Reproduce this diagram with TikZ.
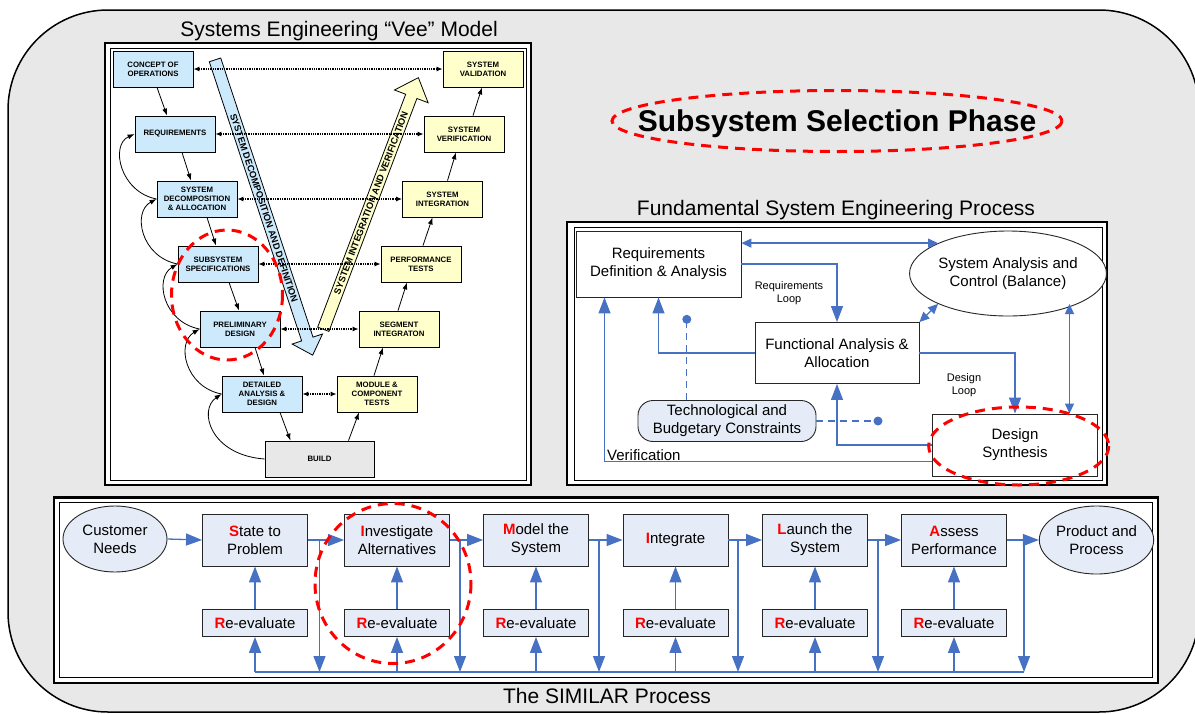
\documentclass[tikz,border=0pt]{standalone}
\usepackage{fontspec}
\setmainfont{Liberation Sans}
\usetikzlibrary{arrows.meta,calc,shapes.geometric}
\definecolor{bggray}{RGB}{232,232,232}
\definecolor{veeblue}{RGB}{204,234,252}
\definecolor{veeyel}{RGB}{255,255,204}
\definecolor{buildgray}{RGB}{232,232,232}
\definecolor{lblue}{RGB}{230,236,247}
\definecolor{cblue}{RGB}{71,114,196}
\definecolor{rred}{RGB}{255,0,0}
\newcommand{\rl}[1]{{\color{rred}\bfseries #1}}
\tikzset{
  frameout/.style={draw=black, line width=2.2, fill=white},
  framein/.style={draw=black, line width=0.9},
  veebox/.style={draw=black, line width=0.8, fill=veeblue, minimum width=80, minimum height=36,
    inner sep=0, align=center, font=\bfseries\fontsize{7.8}{9.3}\selectfont},
  veeyellow/.style={veebox, fill=veeyel},
  veearr/.style={-{Latex[length=7,width=5]}, line width=0.8},
  veedot/.style={{Latex[length=6,width=5]}-{Latex[length=6,width=5]}, densely dotted, line width=1.3},
  bigarrtext/.style={font=\bfseries\fontsize{9.3}{10}\selectfont, inner sep=0},
  fbox/.style={draw=black!85, fill=white, line width=0.9, align=center, inner sep=0,
    font=\fontsize{15}{18}\selectfont},
  barr/.style={cblue, line width=1.3, -{Triangle[length=16,width=12]}},
  sarr/.style={cblue, line width=1.3, {Triangle[length=10,width=9]}-{Triangle[length=10,width=9]}},
  cline/.style={cblue, line width=1.3},
  cdash/.style={cblue, line width=1.3, dash pattern=on 7pt off 5pt},
  simbox/.style={draw=black!85, fill=lblue, line width=0.9, minimum width=105, minimum height=52,
    align=center, inner sep=0, font=\fontsize{15}{18}\selectfont},
  rebox/.style={simbox, minimum height=27},
  simell/.style={ellipse, draw=black!85, fill=lblue, line width=0.9, align=center, inner sep=0,
    font=\fontsize{15}{18}\selectfont},
  reddash/.style={draw=rred, line width=3, dash pattern=on 10pt off 7pt},
  titletext/.style={font=\fontsize{21}{25}\selectfont, anchor=base, inner sep=0},
  smalllabel/.style={font=\fontsize{11}{13.5}\selectfont, align=center, inner sep=0}
}
\begin{document}
\begin{tikzpicture}[x=1pt,y=-1pt]
\useasboundingbox (0,0) rectangle (1195,713);
\clip (0,0) rectangle (1195,713);
\fill[white] (0,0) rectangle (1195,713);
\draw[fill=bggray, line width=1.5, rounded corners=100] (8,10) rectangle (1199,712);

% ================= Vee model =================
\node[titletext] (veetitle) at (339,36) {Systems Engineering “Vee” Model};
\draw[frameout] (105,43) rectangle (531,485);
\draw[framein] (110,48) rectangle (526,480);

% big arrows
\begin{scope}[shift={(264,208)}, rotate=-71.7]
  \filldraw[fill=veeblue, draw=black, line width=0.8]
    (-156,-6) -- (138,-6) -- (138,-16) -- (155,0) -- (138,16) -- (138,6) -- (-156,6) -- cycle;
\end{scope}
\node[bigarrtext, rotate=-71.7] (decomp) at (264,208) {SYSTEM DECOMPOSITION AND DEFINITION};
\begin{scope}[shift={(371,203)}, rotate=69.3]
  \filldraw[fill=veeyel, draw=black, line width=0.8]
    (-135,-6) -- (114,-6) -- (114,-18) -- (134,0) -- (114,18) -- (114,6) -- (-135,6) -- cycle;
\end{scope}
\node[bigarrtext, rotate=69.3] (integ) at (371,203) {SYSTEM INTEGRATION AND VERIFICATION};

\node[veebox] (cop) at (153,69) {CONCEPT OF\\OPERATIONS};
\node[veebox] (req) at (175,134) {REQUIREMENTS};
\node[veebox] (sda) at (197,199) {SYSTEM\\DECOMPOSITION\\\& ALLOCATION};
\node[veebox] (ssp) at (218,264) {SUBSYSTEM\\SPECIFICATIONS};
\node[veebox] (pd) at (240,329) {PRELIMINARY\\DESIGN};
\node[veebox] (dad) at (262,394) {DETAILED\\ANALYSIS \&\\DESIGN};
\node[veebox, fill=buildgray, minimum width=109] (build) at (319.5,459) {BUILD};
\node[veeyellow] (mct) at (377,394) {MODULE \&\\COMPONENT\\TESTS};
\node[veeyellow] (seg) at (399,329) {SEGMENT\\INTEGRATON};
\node[veeyellow] (perf) at (421,264) {PERFORMANCE\\TESTS};
\node[veeyellow] (sint) at (442.5,199) {SYSTEM\\INTEGRATION};
\node[veeyellow] (sver) at (464,134) {SYSTEM\\VERIFICATION};
\node[veeyellow] (sval) at (483,69) {SYSTEM\\VALIDATION};

\draw[veearr] ([xshift=4]cop.south) -- ([xshift=-8]req.north);
\draw[veearr] ([xshift=7]req.south) -- ([xshift=-6]sda.north);
\draw[veearr] ([xshift=10]sda.south) -- ([xshift=-2]ssp.north);
\draw[veearr] ([xshift=11]ssp.south) -- ([xshift=-1]pd.north);
\draw[veearr] ([xshift=15]pd.south) -- ([xshift=2]dad.north);
\draw[veearr] ([xshift=18]dad.south) -- ([xshift=-29]build.north);
\draw[veearr] ([xshift=29]build.north) -- ([xshift=-18]mct.south);
\draw[veearr] ([xshift=-3]mct.north) -- ([xshift=-16]seg.south);
\draw[veearr] ([xshift=-1]seg.north) -- ([xshift=-14]perf.south);
\draw[veearr] ([xshift=2]perf.north) -- ([xshift=-10]sint.south);
\draw[veearr] ([xshift=5]sint.north) -- ([xshift=-8]sver.south);
\draw[veearr] ([xshift=9]sver.north) -- ([xshift=-1]sval.south);

\draw[veearr] (sda.west) .. controls (120,192) and (110,145) .. (req.west);
\draw[veearr] (ssp.west) .. controls (141,257) and (132,212) .. (sda.west);
\draw[veearr] (pd.west) .. controls (163,322) and (154,278) .. (ssp.west);
\draw[veearr] (dad.west) .. controls (185,387) and (176,343) .. (pd.west);
\draw[veearr] (build.west) .. controls (210,455) and (198,410) .. (dad.west);

\draw[veedot] (cop.east) -- (sval.west);
\draw[veedot] (req.east) -- (sver.west);
\draw[veedot] (sda.east) -- (sint.west);
\draw[veedot] (ssp.east) -- (perf.west);
\draw[veedot] (pd.east) -- (seg.west);
\draw[veedot] (dad.east) -- (mct.west);

\draw[reddash] (227,295) ellipse [x radius=55.5, y radius=65];

% ================= Subsystem Selection Phase =================
\node[font=\bfseries\fontsize{30}{36}\selectfont, anchor=base, inner sep=0] (phase) at (837,131.7) {Subsystem Selection Phase};
\draw[reddash] (837,121) ellipse [x radius=225, y radius=30.5];

% ================= Fundamental process =================
\node[titletext] (ftitle) at (836,215) {Fundamental System Engineering Process};
\draw[frameout] (567,222) rectangle (1107,485);
\draw[framein] (574,227) rectangle (1102,480);

\node[fbox, minimum width=165, minimum height=66] (rda) at (658.5,264) {Requirements\\Definition \& Analysis};
\node[fbox, ellipse, minimum width=172, minimum height=85] (sac) at (1008,273.5) {System Analysis and\\Control (Balance)};
\node[fbox, minimum width=164, minimum height=61] (faa) at (837,353) {Functional Analysis \&\\Allocation};
\node[fbox, fill=lblue, rounded corners=15, minimum width=178, minimum height=41] (tbc) at (727,421) {Technological and\\Budgetary Constraints};
\node[fbox, minimum width=165, minimum height=62] (ds) at (1015,445) {Design\\Synthesis};

\node[smalllabel] (rloop) at (789,293.3) {Requirements\\Loop};
\node[smalllabel] (dloop) at (964,385) {Design\\Loop};
\node[font=\fontsize{15}{18}\selectfont, anchor=west, inner sep=0] (verif) at (607,455) {Verification};

\coordinate (s6) at (1069.5,304);
\coordinate (v) at (604.5,461.7);
\coordinate (dot1) at (686.8,319.3);
\coordinate (dot2) at (878,421);

\draw[sarr] (rda.east |- sac.north west) -- (sac.north west);
\draw[barr] (rda.east) -| (faa.north);
\draw[sarr] (faa.north east) -- (sac.south west);
\draw[barr] (faa.east) -| (ds.north);
\draw[barr] (faa.west) -| (rda.south);
\draw[sarr] (s6) -- (s6 |- ds.north);
\draw[barr] (ds.west) -| (faa.south);
\draw[barr] (ds.west |- v) -- (v) -- (v |- rda.south);
\draw[cdash] (tbc.north -| dot1) -- (dot1);
\draw[cdash] (tbc.east) -- (dot2);
\fill[cblue] (dot1) circle [radius=4.5];
\fill[cblue] (dot2) circle [radius=4.5];

\draw[reddash] (1018.7,446) ellipse [x radius=90, y radius=39];

% ================= SIMILAR process =================
\node[titletext] (stitle) at (607,703.5) {The SIMILAR Process};
\draw[frameout] (54,497.5) rectangle (1158,682.7);
\draw[framein] (59,502.5) rectangle (1152.5,677);

\node[simell, minimum width=104, minimum height=66] (cn) at (115,539) {Customer\\Needs};
\node[simbox] (s1) at (255,540) {\rl{S}tate to\\Problem};
\node[simbox] (s2) at (397,540) {\rl{I}nvestigate\\Alternatives};
\node[simbox] (s3) at (536,540) {\rl{M}odel the\\System};
\node[simbox] (s4) at (675.5,540) {\rl{I}ntegrate};
\node[simbox] (s5) at (815,540) {\rl{L}aunch the\\System};
\node[simbox] (s6b) at (954,540) {\rl{A}ssess\\Performance};
\node[simell, minimum width=105, minimum height=68] (pp) at (1096.5,540) {Product and\\Process};
\node[rebox] (r1) at (255,623) {\rl{R}e-evaluate};
\node[rebox] (r2) at (397,623) {\rl{R}e-evaluate};
\node[rebox] (r3) at (536,623) {\rl{R}e-evaluate};
\node[rebox] (r4) at (675.5,623) {\rl{R}e-evaluate};
\node[rebox] (r5) at (815,623) {\rl{R}e-evaluate};
\node[rebox] (r6) at (954,623) {\rl{R}e-evaluate};

\coordinate (d1) at (319.5,672);
\coordinate (d2) at (460,672);
\coordinate (d3) at (599,672);
\coordinate (d4) at (738,672);
\coordinate (d5) at (878,672);
\coordinate (d6) at (1024,672);

\draw[barr] (cn.east) -- (s1.west);
\draw[barr] (s1.east) -- (s2.west);
\draw[barr] (s2.east) -- (s3.west);
\draw[barr] (s3.east) -- (s4.west);
\draw[barr] (s4.east) -- (s5.west);
\draw[barr] (s5.east) -- (s6b.west);
\draw[barr] (s6b.east) -- (pp.west);

\draw[barr] (s1.east -| d1) -- (d1);
\draw[barr] (s2.east -| d2) -- (d2);
\draw[barr] (s3.east -| d3) -- (d3);
\draw[barr] (s4.east -| d4) -- (d4);
\draw[barr] (s5.east -| d5) -- (d5);
\draw[barr] (s6b.east -| d6) -- (d6);
\draw[cline] (r1.south |- d1) -- (d6);

\foreach \i/\t in {r1/s1, r2/s2, r3/s3, r4/s4, r5/s5, r6/s6b}{
  \draw[barr] (\i.south |- d1) -- (\i.south);
  \draw[barr] (\i.north) -- (\t.south);
}

\draw[reddash] (393,583.5) ellipse [x radius=78, y radius=80];
\end{tikzpicture}
\end{document}
